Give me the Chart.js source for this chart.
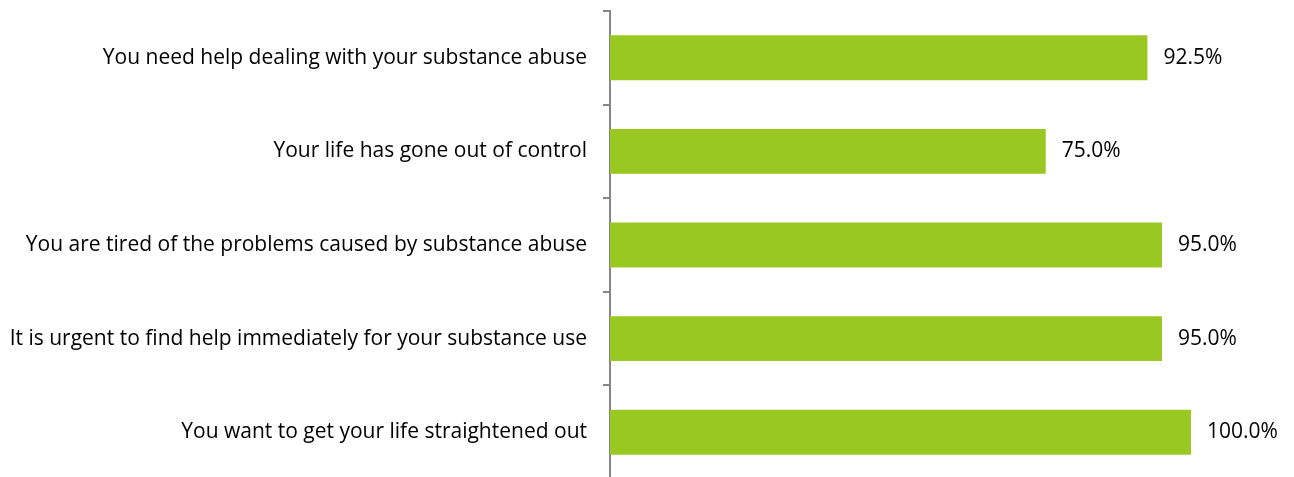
<!DOCTYPE html>
<html>
<head>
<meta charset="utf-8">
<script src="https://cdn.jsdelivr.net/npm/chart.js@4"></script>
<style>
  html, body { margin: 0; padding: 0; background: #fff; overflow: hidden; }
</style>
</head>
<body>
<canvas id="chart" width="1294" height="490"></canvas>
<script>
const categories = [
    'You need help dealing with your substance abuse',
    'Your life has gone out of control',
    'You are tired of the problems caused by substance abuse',
    'It is urgent to find help immediately for your substance use',
    'You want to get your life straightened out'
];
const values = [92.5, 75.0, 95.0, 95.0, 100.0];

const valueLabels = {
    id: 'valueLabels',
    afterDatasetsDraw(chart) {
        const ctx = chart.ctx;
        const meta = chart.getDatasetMeta(0);
        ctx.save();
        ctx.font = '21px "Open Sans", sans-serif';
        ctx.fillStyle = '#000';
        ctx.textAlign = 'left';
        ctx.textBaseline = 'middle';
        meta.data.forEach((bar, i) => {
            ctx.fillText(values[i].toFixed(1) + '%', bar.x + 16, bar.y);
        });
        ctx.restore();
    }
};

new Chart(document.getElementById('chart'), {
    type: 'bar',
    data: {
        labels: categories,
        datasets: [{
            data: values,
            backgroundColor: '#99c823',
            barPercentage: 0.96,
            categoryPercentage: 0.5
        }]
    },
    options: {
        indexAxis: 'y',
        responsive: false,
        animation: false,
        layout: { padding: { top: 11, right: 103, bottom: 11, left: 0 } },
        plugins: { legend: { display: false }, tooltip: { enabled: false } },
        scales: {
            x: { display: false, min: 0, max: 100 },
            y: {
                afterFit: s => { s.width = 610; s.paddingTop = 0; s.paddingBottom = 0; },
                border: { color: '#868686', width: 2 },
                grid: { offset: true, drawOnChartArea: false, tickLength: 7, color: '#868686', lineWidth: 2 },
                ticks: { color: '#000', padding: 16, font: { family: '"Open Sans", sans-serif', size: 21 } }
            }
        }
    },
    plugins: [valueLabels]
});
</script>
</body>
</html>
